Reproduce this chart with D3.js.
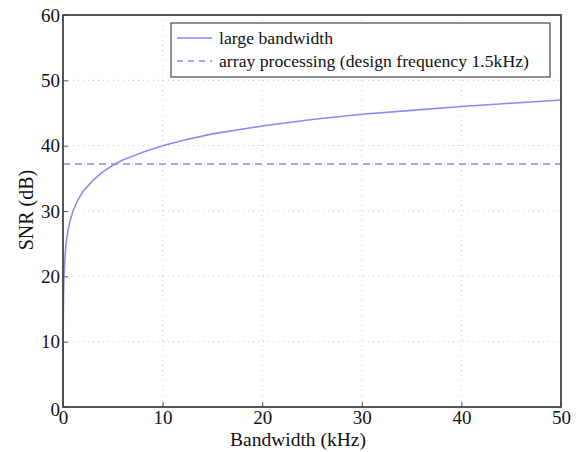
<!DOCTYPE html>
<html><head><meta charset="utf-8">
<script src="https://cdn.jsdelivr.net/npm/d3@7"></script>
<style>body{margin:0;background:#fff}svg{display:block}text{font-family:"Liberation Serif","Times New Roman",serif;fill:#111}</style>
</head><body><svg id="c" width="583" height="452"></svg>
<script>
const bandwidth = [0, 0.02, 0.05, 0.1, 0.2, 0.3, 0.5, 0.7, 1, 1.5, 2, 2.6, 3, 4, 5, 6, 7, 8, 10, 12, 15, 20, 25, 30, 35, 40, 45, 50];
const snrLarge  = [0, 12, 17, 20, 23, 25, 27, 28.4, 30, 31.7, 33, 34, 34.7, 36, 37, 37.8, 38.4, 39, 40, 40.8, 41.8, 43, 44, 44.8, 45.4, 46, 46.5, 47];
const snrArray = 37.2;
const xTicks = [0, 10, 20, 30, 40, 50];
const yTicks = [0, 10, 20, 30, 40, 50, 60];
const legendLabels = ["large bandwidth", "array processing (design frequency 1.5kHz)"];

const svg = d3.select("#c");
const L = 63, R = 561, T = 15, B = 407;
const x = d3.scaleLinear().domain([0, 50]).range([L, R]);
const y = d3.scaleLinear().domain([0, 60]).range([B, T]);
const col = "#8a8af5";

// grid
const g = svg.append("g");
g.selectAll(".gx").data(xTicks.slice(1, -1)).enter().append("line")
  .attr("x1", d => x(d)).attr("x2", d => x(d)).attr("y1", T).attr("y2", B)
  .attr("stroke", "#c8c8c8").attr("stroke-dasharray", "1,4");
g.selectAll(".gy").data(yTicks.slice(1, -1)).enter().append("line")
  .attr("y1", d => y(d)).attr("y2", d => y(d)).attr("x1", L).attr("x2", R)
  .attr("stroke", "#c8c8c8").attr("stroke-dasharray", "1,4");

// axes (ticks inward)
const xa = svg.append("g").attr("transform", `translate(0,${B})`)
  .call(d3.axisBottom(x).tickValues(xTicks).tickSize(-5).tickPadding(7).tickFormat(d3.format("d")));
const ya = svg.append("g").attr("transform", `translate(${L},0)`)
  .call(d3.axisLeft(y).tickValues(yTicks).tickSize(-5).tickPadding(3).tickFormat(d3.format("d")));
[xa, ya].forEach(a => {
  a.select(".domain").remove();
  a.selectAll("line").attr("stroke", "#555");
  a.selectAll("text").style("font-family", '"Liberation Serif",serif').style("font-size", "19px").attr("fill", "#111");
});
xa.selectAll("text").attr("dy", "0.55em");
ya.selectAll("text").filter(d => d === 0).attr("dy", "0.45em");

// data
const line = d3.line().x((d, i) => x(bandwidth[i])).y(d => y(d));
svg.append("path").datum(snrLarge).attr("d", line)
  .attr("fill", "none").attr("stroke", col).attr("stroke-width", 1.6);
svg.append("line").attr("x1", x(0)).attr("x2", x(50)).attr("y1", y(snrArray)).attr("y2", y(snrArray))
  .attr("stroke", col).attr("stroke-width", 1.6).attr("stroke-dasharray", "7,5");

// frame
svg.append("rect").attr("x", L).attr("y", T).attr("width", R - L).attr("height", B - T)
  .attr("fill", "none").attr("stroke", "#444").attr("stroke-width", 1.8);

// legend
const lg = svg.append("g");
lg.append("rect").attr("x", 171).attr("y", 23).attr("width", 379).attr("height", 54)
  .attr("fill", "#fff").attr("stroke", "#444").attr("stroke-width", 1.2);
legendLabels.forEach((t, i) => {
  const yy = 38 + i * 23;
  lg.append("line").attr("x1", 177).attr("x2", 212).attr("y1", yy).attr("y2", yy)
    .attr("stroke", col).attr("stroke-width", 1.6).attr("stroke-dasharray", i ? "6,5" : null);
  lg.append("text").attr("x", 219).attr("y", yy + 6).style("font-size", "17.7px").text(t);
});

// axis titles
svg.append("text").attr("x", 298).attr("y", 446).attr("text-anchor", "middle").style("font-size", "19.5px").text("Bandwidth (kHz)");
svg.append("text").attr("transform", "translate(33,210) rotate(-90)").attr("text-anchor", "middle").style("font-size", "20px").text("SNR (dB)");
</script></body></html>
